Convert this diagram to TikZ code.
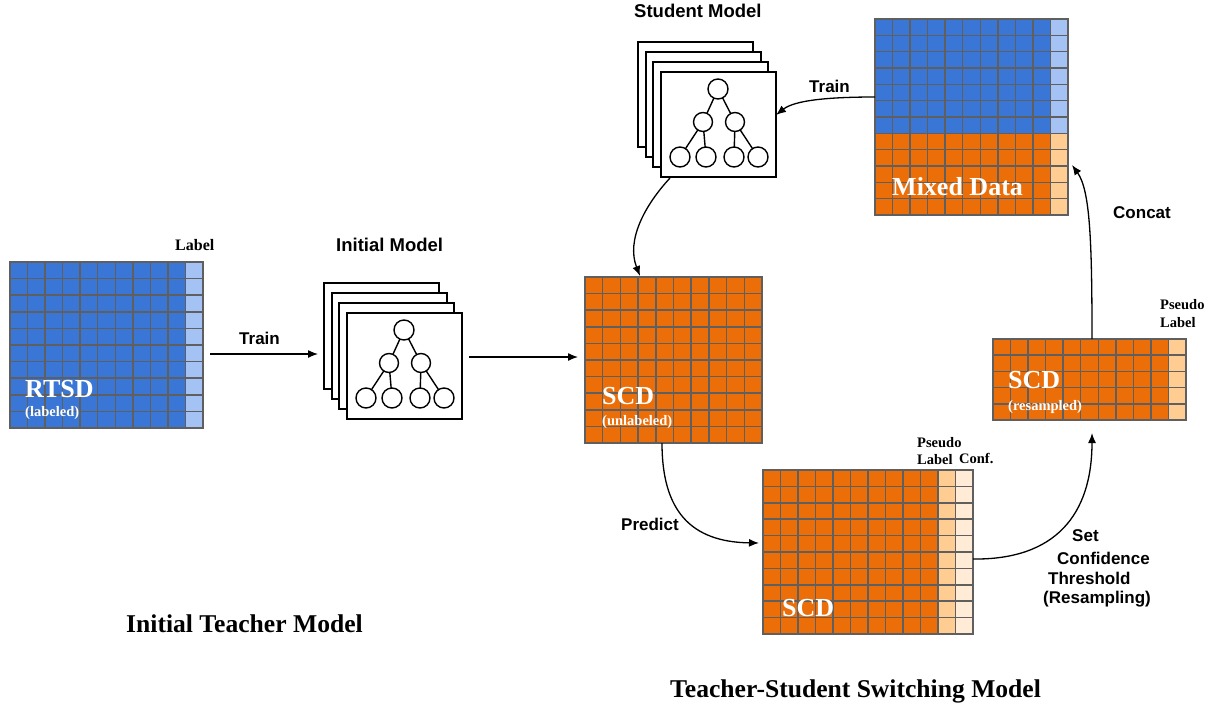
\documentclass[tikz,border=0pt]{standalone}
\usepackage{fontspec}
\setmainfont{Liberation Serif}
\setsansfont{Liberation Sans}
\usetikzlibrary{arrows.meta,calc}
\definecolor{cblue}{RGB}{58,118,214}
\definecolor{clblue}{RGB}{164,194,244}
\definecolor{corange}{RGB}{236,110,8}
\definecolor{clorange}{RGB}{255,205,145}
\definecolor{cvlorange}{RGB}{255,235,214}
\definecolor{cgrid}{RGB}{95,95,95}
% #1 x0, #2 y0, #3 cols, #4 rows, #5 cell w, #6 cell h
\newcommand\gridlines[6]{%
  \foreach \i in {0,...,#3} \draw[gl] ({#1+\i*#5},#2) -- ({#1+\i*#5},{#2+#4*#6});
  \foreach \j in {0,...,#4} \draw[gl] (#1,{#2+\j*#6}) -- ({#1+#3*#5},{#2+\j*#6});
  \draw[gl] (#1,#2) rectangle ({#1+#3*#5},{#2+#4*#6});
}
% #1 name, #2 x, #3 y of the front frame's top-left corner, #4 its height
\newcommand\modelstack[4]{%
  \foreach \d/\e in {23/30,15/20,8/10} \draw[frm] ({#2-\d},{#3-\e}) rectangle +(115,#4);
  \node[frm,minimum width=115pt,minimum height=#4pt,anchor=north west] (#1) at (#2,#3) {};
  \node[cnode] (#1r) at ($(#1.north west)+(57,17)$) {};
  \node[cnode,minimum size=19pt] (#1a) at ($(#1.north west)+(42,50)$) {};
  \node[cnode,minimum size=19pt] (#1b) at ($(#1.north west)+(74,50)$) {};
  \node[cnode] (#1l1) at ($(#1.north west)+(19,85)$) {};
  \node[cnode] (#1l2) at ($(#1.north west)+(45,85)$) {};
  \node[cnode] (#1l3) at ($(#1.north west)+(73,85)$) {};
  \node[cnode] (#1l4) at ($(#1.north west)+(97,85)$) {};
  \draw[tl] (#1r) -- (#1a); \draw[tl] (#1r) -- (#1b);
  \draw[tl] (#1a) -- (#1l1); \draw[tl] (#1a) -- (#1l2);
  \draw[tl] (#1b) -- (#1l3); \draw[tl] (#1b) -- (#1l4);
}
\begin{document}
\begin{tikzpicture}[x=1pt,y=-1pt,
  gl/.style={draw=cgrid,line width=1.5pt},
  gbox/.style={rectangle,inner sep=0,outer sep=0},
  frm/.style={draw=black,fill=white,line width=1.4pt,inner sep=0,outer sep=0},
  cnode/.style={circle,draw=black,fill=white,line width=1.4pt,minimum size=20pt,inner sep=0,outer sep=0},
  tl/.style={line width=1.4pt},
  arr/.style={line width=1.3pt,-{Latex[length=10pt,width=8pt]}},
  lab/.style={font=\sffamily\bfseries\fontsize{17}{20}\selectfont,inner sep=0,anchor=west},
  mtitle/.style={font=\sffamily\bfseries\fontsize{18.5}{22}\selectfont,inner sep=0,anchor=west},
  big/.style={font=\rmfamily\bfseries\fontsize{26}{30}\selectfont,text=white,inner sep=0,anchor=west},
  sub/.style={font=\rmfamily\bfseries\fontsize{14.5}{18}\selectfont,text=white,inner sep=0,anchor=west},
  small/.style={font=\rmfamily\bfseries\fontsize{14.5}{17}\selectfont,inner sep=0,anchor=west},
  ttl/.style={font=\rmfamily\bfseries\fontsize{25.6}{29}\selectfont,inner sep=0,anchor=west}]
\useasboundingbox (0,0) rectangle (1215,710);

% ---------- RTSD ----------
\node[gbox,fill=cblue,minimum width=193pt,minimum height=166pt] (rtsd) at (106.5,345) {};
\fill[clblue] ($(rtsd.north east)+(-17.545,0)$) rectangle (rtsd.south east);
\gridlines{10}{262}{11}{10}{17.545}{16.6}
\node[big] (rtsdt) at (25,389) {RTSD};
\node[sub] (rtsds) at (25,413) {(labeled)};
\node[small,font=\rmfamily\bfseries\fontsize{16}{19}\selectfont] (rtsdl) at (175,245) {Label};

% ---------- Initial model ----------
\node[mtitle] (imt) at (336,245) {Initial Model};
\modelstack{im}{347}{313}{106}

% ---------- SCD unlabeled ----------
\node[gbox,fill=corange,minimum width=177pt,minimum height=166pt] (scdu) at (673.5,360) {};
\gridlines{585}{277}{10}{10}{17.7}{16.6}
\node[big] (scdut) at (602,396) {SCD};
\node[sub] (scdus) at (602,422) {(unlabeled)};

% ---------- Student model ----------
\node[mtitle] (smt) at (634,11) {Student Model};
\modelstack{sm}{661}{72}{105}

% ---------- Mixed data ----------
\node[gbox,fill=corange,minimum width=193pt,minimum height=196pt] (mixed) at (971.5,117) {};
\fill[cblue] (mixed.north west) rectangle ($(mixed.north east)+(0,114.33)$);
\fill[clblue] ($(mixed.north east)+(-17.545,0)$) rectangle ($(mixed.north east)+(0,114.33)$);
\fill[clorange] ($(mixed.north east)+(-17.545,114.33)$) rectangle (mixed.south east);
\gridlines{875}{19}{11}{12}{17.545}{16.333}
\node[big] (mixedt) at (892,187) {Mixed Data};

% ---------- SCD bottom ----------
\node[gbox,fill=corange,minimum width=210pt,minimum height=164pt] (scdb) at (868,552) {};
\fill[clorange] ($(scdb.north east)+(-35,0)$) rectangle ($(scdb.south east)+(-17.5,0)$);
\fill[cvlorange] ($(scdb.north east)+(-17.5,0)$) rectangle (scdb.south east);
\gridlines{763}{470}{12}{10}{17.5}{16.4}
\node[big] (scdbt) at (782,608) {SCD};
\node[small] (scdbp) at (917,443) {Pseudo};
\node[small] (scdbl) at (917,460) {Label};
\node[small] (scdbc) at (959,458) {Conf.};

% ---------- SCD resampled ----------
\node[gbox,fill=corange,minimum width=193pt,minimum height=81pt] (scdr) at (1089.5,379.5) {};
\fill[clorange] ($(scdr.north east)+(-17.545,0)$) rectangle (scdr.south east);
\gridlines{993}{339}{11}{5}{17.545}{16.2}
\node[big] (scdrt) at (1008,380) {SCD};
\node[sub] (scdrs) at (1008,407) {(resampled)};
\node[small] (scdrp) at (1160,305) {Pseudo};
\node[small] (scdrl) at (1160,323) {Label};

% ---------- connectors ----------
\draw[arr] ($(rtsd.east)+(7,9)$) -- ($(im.west)+(-29,-12)$);
\node[lab] (trainA) at (239,338) {Train};
\draw[arr] ($(im.east)+(7,-9)$) -- ($(scdu.west)+(-7,-3)$);
\draw[arr] ($(sm.south west)+(9,1)$) .. controls (645,205) and (626,240) .. ($(scdu.north west)+(55,-1)$);
\draw[arr] ($(mixed.west)+(0,-20)$) .. controls (830,97) and (795,100) .. ($(sm.east)+(0,-9.5)$);
\node[lab] (trainB) at (809,86) {Train};
\draw[arr] ($(scdu.south)+(-11.5,0)$) .. controls (662,510) and (690,542) .. ($(scdb.west)+(-4,-9)$);
\node[lab] (pred) at (621,524) {Predict};
\draw[arr] ($(scdb.east)+(0,7)$) .. controls (1055,560) and (1092,515) .. ($(scdr.south)+(2.5,13)$);
\node[lab] (setA) at (1072,536) {Set};
\node[lab] (setB) at (1057,558) {Confidence};
\node[lab] (setC) at (1048,578) {Threshold};
\node[lab] (setD) at (1043,599) {(Resampling)};
\draw[arr] ($(scdr.north)+(2.5,0)$) .. controls (1092,240) and (1090,190) .. ($(mixed.east)+(4,48)$);
\node[lab] (concat) at (1113,213) {Concat};

% ---------- titles ----------
\node[ttl] (titleA) at (126,624) {Initial Teacher Model};
\node[ttl] (titleB) at (670,691) {Teacher-Student Switching Model};
\end{tikzpicture}
\end{document}
